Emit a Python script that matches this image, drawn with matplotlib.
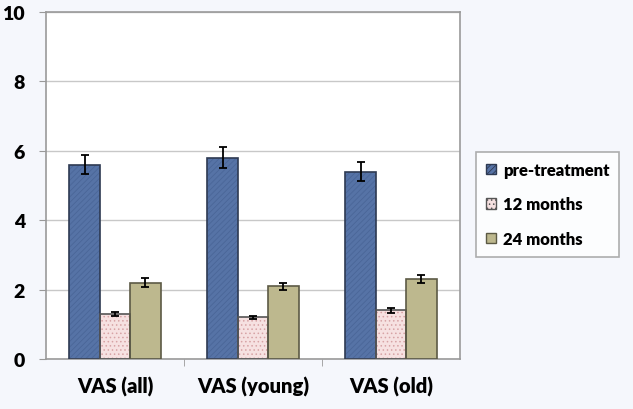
import numpy as np
import matplotlib.pyplot as plt

categories = ["VAS (all)", "VAS (young)", "VAS (old)"]
series = ["pre-treatment", "12 months", "24 months"]
pre = [5.6, 5.8, 5.4]
m12 = [1.3, 1.2, 1.4]
m24 = [2.2, 2.1, 2.3]
pre_err = [0.28, 0.3, 0.28]
m12_err = [0.06, 0.05, 0.07]
m24_err = [0.12, 0.1, 0.12]

values = [pre, m12, m24]
errors = [pre_err, m12_err, m24_err]
fills = ["#5673a6", "#f6e1e1", "#bdb88e"]
hatch_cols = ["#4a6698", "#d7a3a5", "#a9a477"]
hatches = ["//////", "....", ""]
edges = ["#2e3a52", "#555555", "#5c5a45"]

plt.rcParams["font.family"] = ["Lato", "DejaVu Sans"]
plt.rcParams["font.weight"] = "heavy"
plt.rcParams["hatch.linewidth"] = 0.6

fig = plt.figure(figsize=(6.33, 4.1), dpi=100, facecolor="#f5f7fc")
ax = fig.add_axes([46 / 633, 50 / 410, 414 / 633, 347 / 410])
ax.set_facecolor("white")

x = np.arange(len(categories))
w = 0.22
for i in range(3):
    pos = x + (i - 1) * w
    ax.bar(pos, values[i], w, color=fills[i], edgecolor="none", zorder=2)
    if hatches[i]:
        ax.bar(pos, values[i], w, color="none", edgecolor=hatch_cols[i],
               hatch=hatches[i], linewidth=0, zorder=2)
    ax.bar(pos, values[i], w, color="none", edgecolor=edges[i],
           linewidth=1.2, zorder=3)
    ax.errorbar(pos, values[i], yerr=errors[i], fmt="none", ecolor="black",
                elinewidth=1.3, capsize=3, capthick=1.3, zorder=4)

ax.set_xlim(-0.5, 2.5)
ax.set_ylim(0, 10)
ax.set_yticks([0, 2, 4, 6, 8, 10])
ax.set_xticks(x)
ax.set_xticklabels(categories, fontsize=14.5, fontweight="heavy")
ax.tick_params(axis="x", length=0, pad=12)
ax.set_xticks([0.5, 1.5], minor=True)
ax.tick_params(axis="x", which="minor", length=5, color="#999999")
ax.tick_params(axis="y", labelsize=14, length=5, color="#999999", pad=10)
for lab in ax.get_yticklabels():
    lab.set_fontweight("heavy")
ax.yaxis.grid(True, color="#c8c8c8", linewidth=1)
ax.set_axisbelow(True)
for s in ax.spines.values():
    s.set_color("#9a9a9a")
    s.set_linewidth(1.2)

handles = [plt.Rectangle((0, 0), 1, 1, facecolor=fills[i], edgecolor=edges[i],
                         hatch=hatches[i] or None) for i in range(3)]
leg = fig.legend(handles, series, loc="upper left",
                 bbox_to_anchor=(476 / 633, 1 - 153 / 410),
                 prop={"size": 12, "weight": "heavy"}, frameon=True,
                 fancybox=False, handlelength=0.6, handleheight=0.6,
                 handletextpad=0.4, labelspacing=1.1, borderpad=0.6,
                 borderaxespad=0)
leg.get_frame().set_edgecolor("#9a9a9a")
leg.get_frame().set_linewidth(1.2)

fig.savefig("out.png", dpi=100, facecolor=fig.get_facecolor())
